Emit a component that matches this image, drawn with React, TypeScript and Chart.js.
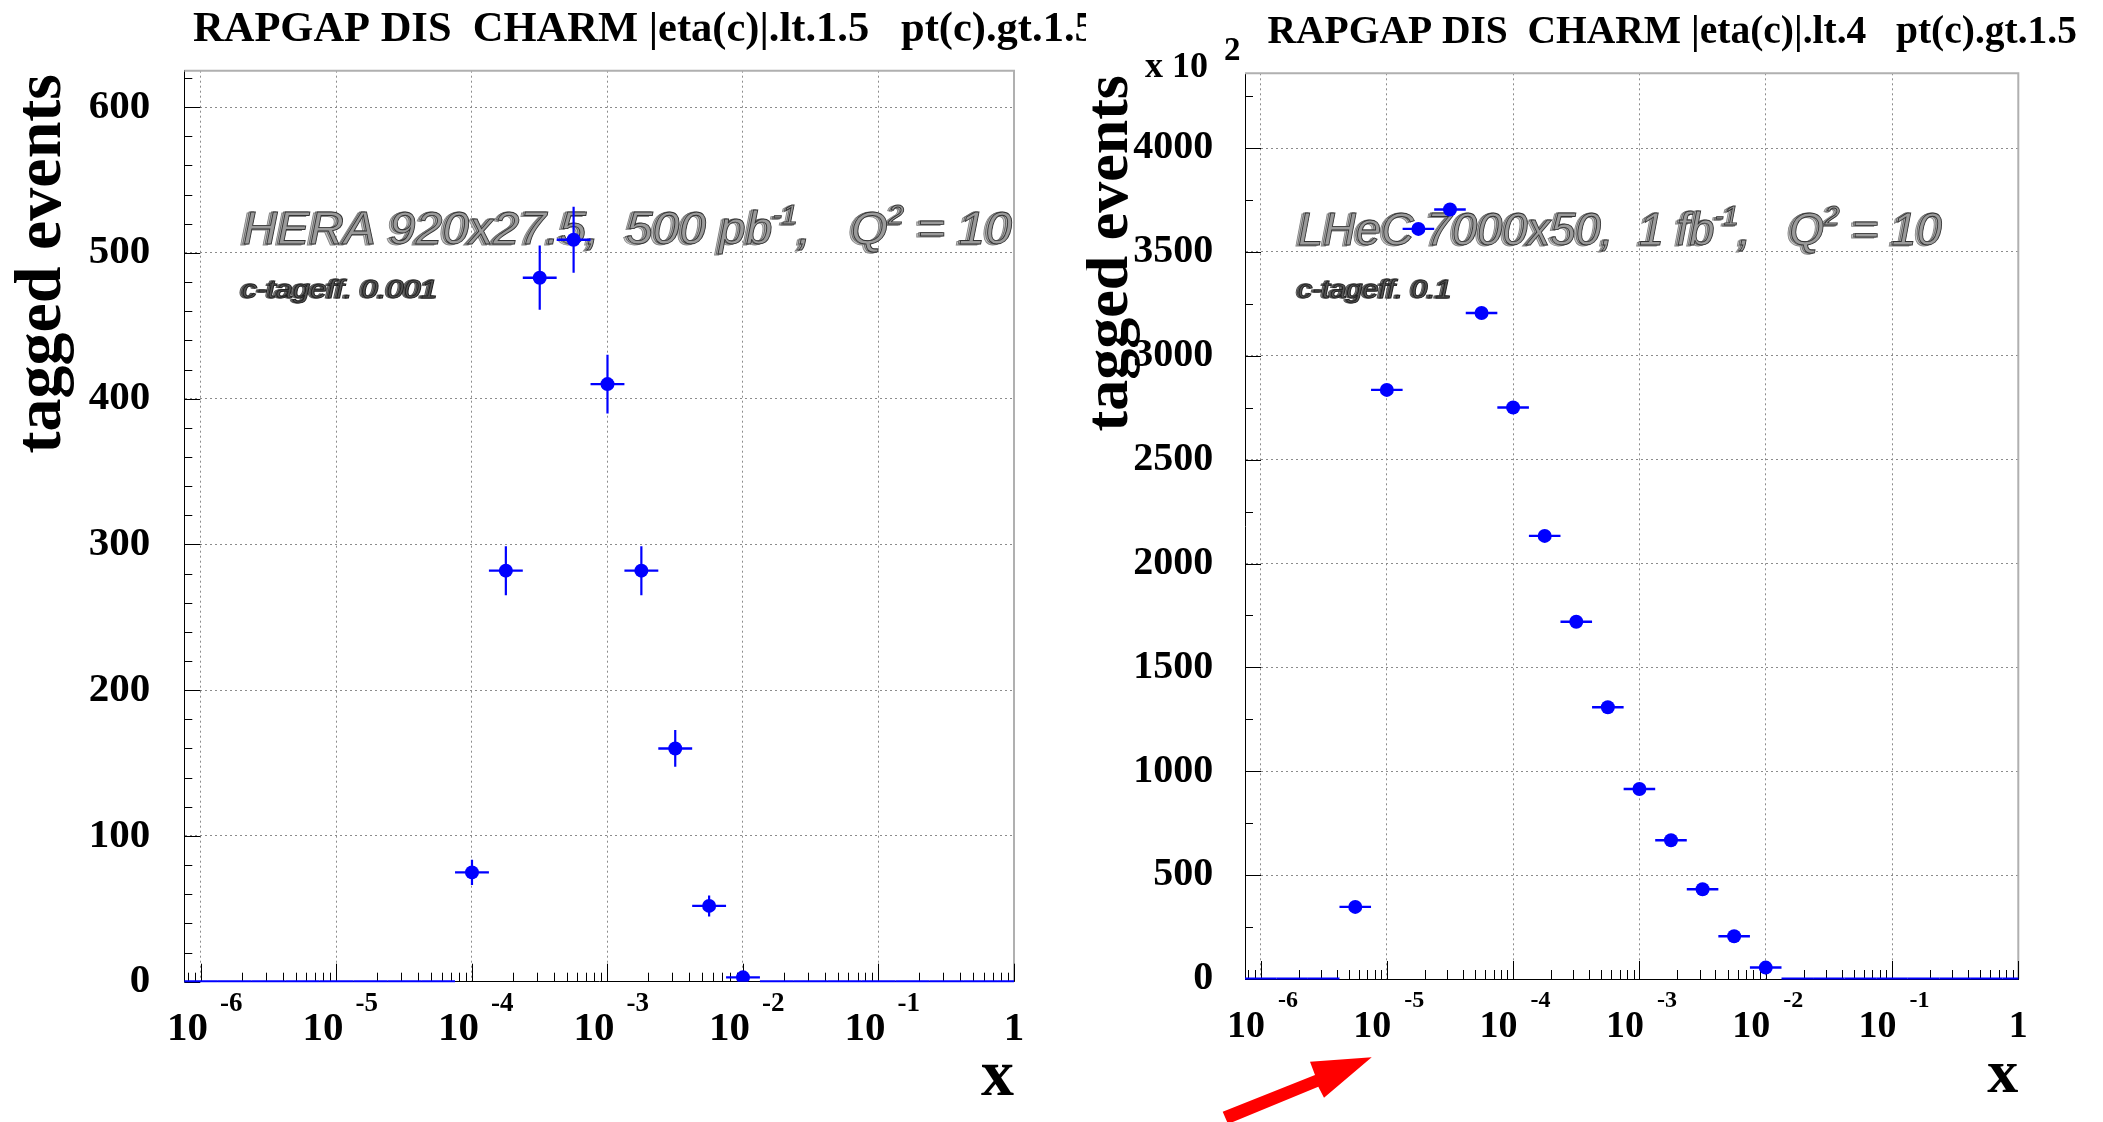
import React, { useEffect, useRef } from "react";
import { Chart, registerables } from "chart.js";

Chart.register(...registerables);

// ---------------- data ----------------
const binCentersLog10 = [
  -6.0, -5.75, -5.5, -5.25, -5.0, -4.75, -4.5, -4.25, -4.0, -3.75, -3.5, -3.25, -3.0,
  -2.75, -2.5, -2.25, -2.0, -1.75, -1.5, -1.25, -1.0, -0.75, -0.5, -0.25, 0.0,
];
const binHalfWidthLog10 = 0.125;

const heraCounts = [0, 0, 0, 0, 0, 0, 0, 0, 75, 282, 483, 509, 410, 282, 160, 52, 3, 0, 0, 0, 0, 0, 0, 0, 0];
const heraErrors = [0, 0, 0, 0, 0, 0, 0, 0, 8.7, 16.8, 22.0, 22.6, 20.2, 16.8, 12.6, 7.2, 1.7, 0, 0, 0, 0, 0, 0, 0, 0];

const lhecCounts = [0, 0, 0, 347, 2836, 3611, 3704, 3206, 2751, 2133, 1720, 1308, 915, 668, 432, 206, 55, 0, 0, 0, 0, 0, 0, 0, 0];
const lhecErrors = [0, 0, 0, 1.9, 5.3, 6.0, 6.1, 5.7, 5.2, 4.6, 4.1, 3.6, 3.0, 2.6, 2.1, 1.4, 0.7, 0, 0, 0, 0, 0, 0, 0, 0];

const xDecadeValues = [1e-6, 1e-5, 1e-4, 1e-3, 1e-2, 1e-1, 1];
const xDecadeExponents = ["-6", "-5", "-4", "-3", "-2", "-1", ""];
const xAxisMinLog10 = -6.123;

const heraYTicks = [0, 100, 200, 300, 400, 500, 600];
const heraYMax = 625;
const heraYMinorStep = 20;
const lhecYTicks = [0, 500, 1000, 1500, 2000, 2500, 3000, 3500, 4000];
const lhecYMax = 4360;
const lhecYMinorStep = 250;

const heraTitle = "RAPGAP DIS  CHARM |eta(c)|.lt.1.5   pt(c).gt.1.5";
const lhecTitle = "RAPGAP DIS  CHARM |eta(c)|.lt.4   pt(c).gt.1.5";
const heraLabel: [string, boolean][] = [["HERA 920x27.5,  500 pb", false], ["-1", true], [",   Q", false], ["2", true], [" = 10", false]];
const lhecLabel: [string, boolean][] = [["LHeC 7000x50,  1 fb", false], ["-1", true], [",   Q", false], ["2", true], [" = 10", false]];
const heraTagEff = "c-tageff. 0.001";
const lhecTagEff = "c-tageff. 0.1";
const yAxisTitle = "tagged events";
const xAxisTitle = "x";
const lhecYMultiplierBase = "x 10";
const lhecYMultiplierExp = "2";

// ---------------- layout ----------------
const PAGE_W = 2103;
const PAGE_H = 1122;
const SPLIT = 1086;
const SERIF = '"Liberation Serif", "Times New Roman", serif';
const SANS = '"Liberation Sans", Arial, sans-serif';
const BLUE = "#0000ff";

type Panel = {
  w: number;
  h: number;
  padTop: number;
  padRight: number;
  yAxisWidth: number;
  xAxisHeight: number;
  yMax: number;
  yTicks: number[];
  yMinor: number;
  counts: number[];
  errors: number[];
  title: string;
  titleX: number;
  titleY: number;
  titleSize: number;
  axisTitleSize: number;
  yTitleX: number;
  yTitleTop: number;
  xTitleBaseline: number;
  yLabelSize: number;
  yLabelPad: number;
  xLabelSize: number;
  xExpSize: number;
  xLabelBaseline: number;
  xExpBaseline: number;
  xLabelDx: number;
  xExpDx: number;
  label: [string, boolean][];
  labelX: number;
  labelBaseline: number;
  labelSize: number;
  labelRight: number;
  tag: string;
  tagX: number;
  tagBaseline: number;
  tagSize: number;
  tagRight: number;
  multiplier: boolean;
  markerRadius: number;
};

const leftPanel: Panel = {
  w: SPLIT,
  h: PAGE_H,
  padTop: 70.7,
  padRight: SPLIT - 1014,
  yAxisWidth: 184.3,
  xAxisHeight: PAGE_H - 981.7,
  yMax: heraYMax,
  yTicks: heraYTicks,
  yMinor: heraYMinorStep,
  counts: heraCounts,
  errors: heraErrors,
  title: heraTitle,
  titleX: 193,
  titleY: 41,
  titleSize: 42.5,
  axisTitleSize: 66,
  yTitleX: 60,
  yTitleTop: 74,
  xTitleBaseline: 1095,
  yLabelSize: 41,
  yLabelPad: 34,
  xLabelSize: 41,
  xExpSize: 27,
  xLabelBaseline: 1040,
  xExpBaseline: 1010.7,
  xLabelDx: 7,
  xExpDx: 19,
  label: heraLabel,
  labelX: 243,
  labelBaseline: 244,
  labelSize: 47,
  labelRight: 1012,
  tag: heraTagEff,
  tagX: 242,
  tagBaseline: 298,
  tagSize: 25,
  tagRight: 438,
  multiplier: false,
  markerRadius: 7,
};

const rightPanel: Panel = {
  w: PAGE_W - SPLIT,
  h: PAGE_H,
  padTop: 73.3,
  padRight: PAGE_W - 2018.3,
  yAxisWidth: 1245 - SPLIT,
  xAxisHeight: PAGE_H - 979,
  yMax: lhecYMax,
  yTicks: lhecYTicks,
  yMinor: lhecYMinorStep,
  counts: lhecCounts,
  errors: lhecErrors,
  title: lhecTitle,
  titleX: 1267.5 - SPLIT,
  titleY: 42.7,
  titleSize: 39.5,
  axisTitleSize: 62,
  yTitleX: 1127 - SPLIT,
  yTitleTop: 75,
  xTitleBaseline: 1092,
  yLabelSize: 40,
  yLabelPad: 31.7,
  xLabelSize: 38,
  xExpSize: 24,
  xLabelBaseline: 1037,
  xExpBaseline: 1007,
  xLabelDx: 4.5,
  xExpDx: 17.5,
  label: lhecLabel,
  labelX: 1298 - SPLIT,
  labelBaseline: 245,
  labelSize: 47,
  labelRight: 1942 - SPLIT,
  tag: lhecTagEff,
  tagX: 1298 - SPLIT,
  tagBaseline: 298,
  tagSize: 25,
  tagRight: 1452 - SPLIT,
  multiplier: true,
  markerRadius: 7,
};

// shadowed, outlined italic text (ROOT-like)
function drawShadowRich(
  ctx: CanvasRenderingContext2D,
  parts: [string, boolean][],
  x: number,
  baseline: number,
  size: number,
  right: number,
  dark: boolean
) {
  const fMain = `italic ${size}px ${SANS}`;
  const fSup = `italic ${Math.round(size * 0.6)}px ${SANS}`;
  const widths: number[] = [];
  let total = 0;
  for (const [t, sup] of parts) {
    ctx.font = sup ? fSup : fMain;
    const w = ctx.measureText(t).width;
    widths.push(w);
    total += w;
  }
  const sx = (right - x) / total;
  ctx.save();
  ctx.translate(x, baseline);
  ctx.scale(sx, 1);
  ctx.textAlign = "left";
  ctx.textBaseline = "alphabetic";
  const layers = dark
    ? [
        { dx: -2.4, dy: 0.4, fill: "#9a9a9a", stroke: "#555" },
        { dx: -1.2, dy: 0.2, fill: "#6a6a6a", stroke: "#444" },
        { dx: 0, dy: 0, fill: "#555", stroke: "#222" },
      ]
    : [
        { dx: -3.6, dy: 0.6, fill: "#c8c8c8", stroke: "#888" },
        { dx: -1.8, dy: 0.3, fill: "#a8a8a8", stroke: "#666" },
        { dx: 0, dy: 0, fill: "#9a9a9a", stroke: "#333" },
      ];
  for (const L of layers) {
    let cx = 0;
    parts.forEach(([t, sup], i) => {
      ctx.font = sup ? fSup : fMain;
      const dy = sup ? -size * 0.42 : 0;
      ctx.fillStyle = L.fill;
      ctx.fillText(t, cx + L.dx, dy + L.dy);
      ctx.strokeStyle = L.stroke;
      ctx.lineWidth = 0.9;
      ctx.strokeText(t, cx + L.dx, dy + L.dy);
      cx += widths[i];
    });
  }
  ctx.restore();
}

function makePlugin(p: Panel) {
  return {
    id: "rootStyle",
    beforeDatasetsDraw(chart: any) {
      const ctx: CanvasRenderingContext2D = chart.ctx;
      const a = chart.chartArea;
      const xs = chart.scales.x;
      const ys = chart.scales.y;
      ctx.save();
      // frame top / right
      ctx.strokeStyle = "#b0b0b0";
      ctx.lineWidth = 2;
      ctx.beginPath();
      ctx.moveTo(a.left, a.top);
      ctx.lineTo(a.right, a.top);
      ctx.lineTo(a.right, a.bottom);
      ctx.stroke();
      // inner ticks
      ctx.strokeStyle = "#000";
      ctx.lineWidth = 1;
      ctx.beginPath();
      for (let e = -7; e <= 0; e++) {
        for (let k = 1; k <= 9; k++) {
          const v = k * Math.pow(10, e);
          if (v < xs.min * 0.999 || v > xs.max * 1.001) continue;
          const px = Math.round(xs.getPixelForValue(v)) + 0.5;
          const len = k === 1 ? 18 : 9;
          ctx.moveTo(px, a.bottom);
          ctx.lineTo(px, a.bottom - len);
        }
      }
      for (let v = 0; v <= p.yMax; v += p.yMinor) {
        const py = Math.round(ys.getPixelForValue(v)) + 0.5;
        const len = p.yTicks.indexOf(v) >= 0 ? 16 : 8;
        ctx.moveTo(a.left, py);
        ctx.lineTo(a.left + len, py);
      }
      ctx.stroke();
      // annotations
      drawShadowRich(ctx, p.label, p.labelX, p.labelBaseline, p.labelSize, p.labelRight, false);
      drawShadowRich(ctx, [[p.tag, false]], p.tagX, p.tagBaseline, p.tagSize, p.tagRight, true);
      // error bars (all bins, empty bins give the line at zero)
      ctx.beginPath();
      ctx.rect(a.left, a.top, a.right - a.left, a.bottom - a.top + 3);
      ctx.clip();
      ctx.strokeStyle = BLUE;
      ctx.lineCap = "butt";
      binCentersLog10.forEach((c, i) => {
        const v = p.counts[i];
        const err = p.errors[i];
        const x1 = xs.getPixelForValue(Math.pow(10, c - binHalfWidthLog10));
        const x2 = xs.getPixelForValue(Math.pow(10, c + binHalfWidthLog10));
        const xc = xs.getPixelForValue(Math.pow(10, c));
        const y = ys.getPixelForValue(v);
        ctx.lineWidth = v > 0 ? 2.4 : 2;
        ctx.beginPath();
        ctx.moveTo(x1, v > 0 ? y : y - 0.5);
        ctx.lineTo(x2, v > 0 ? y : y - 0.5);
        ctx.stroke();
        if (err > 0) {
          ctx.lineWidth = 2.2;
          ctx.beginPath();
          ctx.moveTo(xc, ys.getPixelForValue(v - err));
          ctx.lineTo(xc, ys.getPixelForValue(v + err));
          ctx.stroke();
        }
      });
      ctx.restore();
    },
    afterDraw(chart: any) {
      const ctx: CanvasRenderingContext2D = chart.ctx;
      const a = chart.chartArea;
      const xs = chart.scales.x;
      ctx.save();
      ctx.fillStyle = "#000";
      ctx.textBaseline = "alphabetic";
      // title
      ctx.font = `bold ${p.titleSize}px ${SERIF}`;
      ctx.textAlign = "left";
      ctx.fillText(p.title, p.titleX, p.titleY);
      // x tick labels 10^n
      xDecadeValues.forEach((v, i) => {
        const px = xs.getPixelForValue(v);
        const ex = xDecadeExponents[i];
        if (ex === "") {
          ctx.font = `bold ${p.xLabelSize}px ${SERIF}`;
          ctx.textAlign = "center";
          ctx.fillText("1", px, p.xLabelBaseline);
        } else {
          ctx.font = `bold ${p.xLabelSize}px ${SERIF}`;
          ctx.textAlign = "right";
          ctx.fillText("10", px + p.xLabelDx, p.xLabelBaseline);
          ctx.font = `bold ${p.xExpSize}px ${SERIF}`;
          ctx.textAlign = "left";
          ctx.fillText(ex, px + p.xExpDx, p.xExpBaseline);
        }
      });
      // x axis title
      ctx.font = `bold ${p.axisTitleSize}px ${SERIF}`;
      ctx.textAlign = "right";
      ctx.fillText(xAxisTitle, a.right, p.xTitleBaseline);
      // y axis title
      ctx.save();
      ctx.translate(p.yTitleX, p.yTitleTop);
      ctx.rotate(-Math.PI / 2);
      ctx.textAlign = "right";
      ctx.fillText(yAxisTitle, 0, 0);
      ctx.restore();
      // multiplier
      if (p.multiplier) {
        ctx.font = `bold 36px ${SERIF}`;
        ctx.textAlign = "left";
        ctx.fillText(lhecYMultiplierBase, 1145 - SPLIT, 77);
        ctx.font = `bold 33px ${SERIF}`;
        ctx.fillText(lhecYMultiplierExp, 1224 - SPLIT, 60);
      }
      ctx.restore();
    },
  };
}

function buildChart(canvas: HTMLCanvasElement, p: Panel) {
  const points = binCentersLog10
    .map((c, i) => ({ x: Math.pow(10, c), y: p.counts[i] }))
    .filter((d) => d.y > 0);
  const gridOpts = { display: true, color: "#8c8c8c", lineWidth: 1, drawTicks: false, drawOnChartArea: true };
  const borderOpts = { display: true, color: "#000", width: 1, dash: [2, 3] };
  return new Chart(canvas, {
    type: "scatter",
    data: {
      datasets: [
        {
          data: points,
          showLine: false,
          pointRadius: p.markerRadius,
          pointHoverRadius: p.markerRadius,
          pointBackgroundColor: BLUE,
          pointBorderColor: BLUE,
          pointBorderWidth: 0,
        },
      ],
    },
    options: {
      animation: false,
      responsive: false,
      devicePixelRatio: 1,
      events: [],
      layout: { padding: { left: 0, right: p.padRight, top: p.padTop, bottom: 0 } },
      plugins: { legend: { display: false }, tooltip: { enabled: false }, title: { display: false } },
      scales: {
        x: {
          type: "logarithmic",
          min: Math.pow(10, xAxisMinLog10),
          max: 1,
          afterBuildTicks: (s: any) => {
            s.ticks = xDecadeValues.map((v) => ({ value: v }));
          },
          afterFit: (s: any) => {
            s.height = p.xAxisHeight;
          },
          ticks: { display: false },
          grid: gridOpts,
          border: borderOpts,
        },
        y: {
          type: "linear",
          min: 0,
          max: p.yMax,
          afterBuildTicks: (s: any) => {
            s.ticks = p.yTicks.map((v) => ({ value: v }));
          },
          afterFit: (s: any) => {
            s.width = p.yAxisWidth;
          },
          ticks: {
            autoSkip: false,
            padding: p.yLabelPad,
            color: "#000",
            font: { family: SERIF, weight: "bold", size: p.yLabelSize },
            callback: (v: any) => String(v),
          },
          grid: gridOpts,
          border: borderOpts,
        },
      },
    },
    plugins: [makePlugin(p)],
  } as any);
}

export default function App() {
  const leftRef = useRef<HTMLCanvasElement>(null);
  const rightRef = useRef<HTMLCanvasElement>(null);
  useEffect(() => {
    const c1 = buildChart(leftRef.current!, leftPanel);
    const c2 = buildChart(rightRef.current!, rightPanel);
    return () => {
      c1.destroy();
      c2.destroy();
    };
  }, []);
  return (
    <div
      style={{
        position: "fixed",
        left: 0,
        top: 0,
        width: PAGE_W,
        height: PAGE_H,
        background: "#fff",
        overflow: "hidden",
      }}
    >
      <canvas
        ref={leftRef}
        width={leftPanel.w}
        height={leftPanel.h}
        style={{ position: "absolute", left: 0, top: 0, width: leftPanel.w, height: leftPanel.h }}
      />
      <canvas
        ref={rightRef}
        width={rightPanel.w}
        height={rightPanel.h}
        style={{ position: "absolute", left: SPLIT, top: 0, width: rightPanel.w, height: rightPanel.h, background: "#fff" }}
      />
      <svg
        width={PAGE_W}
        height={PAGE_H}
        style={{ position: "absolute", left: 0, top: 0, pointerEvents: "none" }}
      >
        <polygon
          points="1222.7,1111.7 1315,1075 1310,1061.7 1371.7,1057.3 1324,1097.7 1318.3,1086.7 1228,1124"
          fill="#ff0000"
        />
      </svg>
    </div>
  );
}
